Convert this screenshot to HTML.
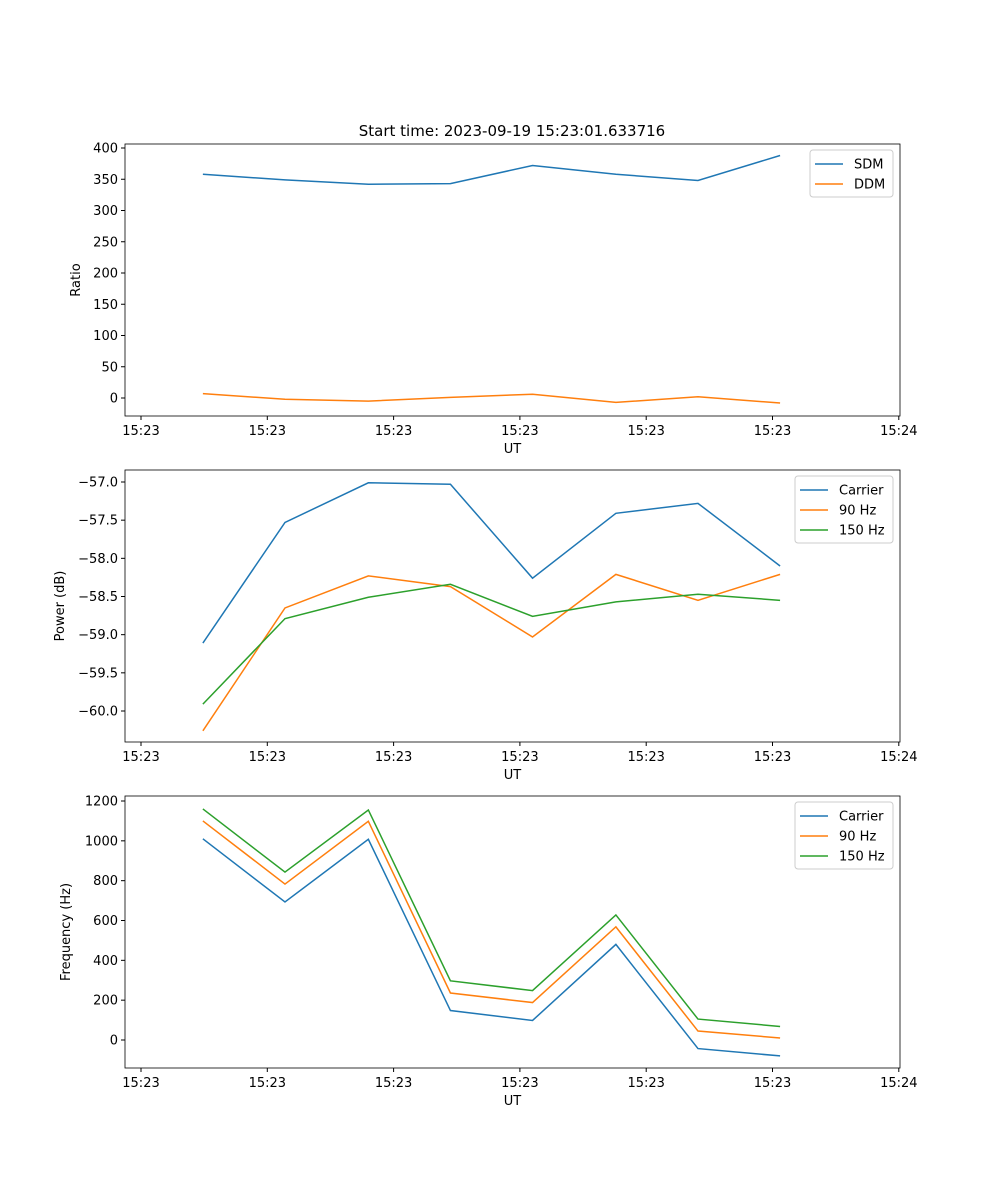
<!DOCTYPE html>
<html><head><meta charset="utf-8"><style>
body{margin:0;background:#fff}
svg{display:block;font-family:"DejaVu Sans","Liberation Sans",sans-serif}
</style></head><body>
<svg id="fig" width="1000" height="1200"></svg>
<script>
const sampleTimes=[1.49,2.14,2.80,3.45,4.10,4.76,5.41,6.06];
const xTickVals=[1,2,3,4,5,6,7];
const xTickLabels=["15:23","15:23","15:23","15:23","15:23","15:23","15:24"];
const sdm=[358,349,342,343,372,358,348,388];
const ddm=[7,-2,-5,1,6,-7,2,-8];
const pCarrier=[-59.11,-57.53,-57.01,-57.03,-58.26,-57.41,-57.28,-58.10];
const p90=[-60.26,-58.65,-58.23,-58.37,-59.03,-58.21,-58.55,-58.21];
const p150=[-59.91,-58.79,-58.51,-58.34,-58.76,-58.57,-58.47,-58.55];
const fCarrier=[1010,693,1008,148,98,480,-43,-80];
const f90=[1100,783,1098,236,188,568,45,10];
const f150=[1160,843,1155,297,248,628,105,68];
const ticks1=[0,50,100,150,200,250,300,350,400];
const ticks2=[-60.0,-59.5,-59.0,-58.5,-58.0,-57.5,-57.0];
const ticks3=[0,200,400,600,800,1000,1200];

const NS="http://www.w3.org/2000/svg";
const svg=document.getElementById('fig');
function mk(tag,attrs,parent,text){const e=document.createElementNS(NS,tag);for(const k in attrs)e.setAttribute(k,attrs[k]);if(text!==undefined)e.textContent=text;(parent||svg).appendChild(e);return e;}
const X0=125,X1=900;
const xs=t=>141+(t-1)*126.3;
function panel(name,top,bottom,yv0,yp0,yv1,yp1,ticks,fmt,ylabel,series,legend){
  const g=mk('g',{});
  
  
  const ys=v=>yp0+(v-yv0)*(yp1-yp0)/(yv1-yv0);
  ticks.forEach(v=>{const y=ys(v);
    const l=mk('line',{x1:X0-4,x2:X0,y1:y,y2:y,stroke:'#000'},g);
    
    const t=mk('text',{x:X0-7,y:y+4.5,'text-anchor':'end','font-size':'13'},g,fmt(v));
    });
  xTickVals.forEach((v,i)=>{const x=xs(v);
    const l=mk('line',{x1:x,x2:x,y1:bottom,y2:bottom+4,stroke:'#000'},g);
    
    const t=mk('text',{x:x,y:bottom+19,'text-anchor':'middle','font-size':'13'},g,xTickLabels[i]);
    });
  series.forEach(s=>{
    const p=mk('polyline',{points:s.v.map((v,i)=>xs(sampleTimes[i])+','+ys(v)).join(' '),fill:'none',stroke:s.c,'stroke-width':1.5},g);
    });
  const fr=mk('rect',{x:X0,y:top,width:X1-X0,height:bottom-top,fill:'none',stroke:'#000','stroke-width':0.8},g);
  
  const xl=mk('text',{x:(X0+X1)/2,y:bottom+37,'text-anchor':'middle','font-size':'13'},g,'UT');
  
  const yl=mk('text',{x:0,y:0,'text-anchor':'middle','font-size':'13',transform:`translate(${ylabel.x},${(top+bottom)/2}) rotate(-90)`},g,ylabel.t);
  
  const lg=mk('g',{},g);
  
  const lh=20+series.length*20;
  mk('rect',{x:legend.x,y:top+6,width:X1-7-legend.x,height:series.length*20+7,fill:'#fff',stroke:'#ccc',rx:3},lg);
  series.forEach((s,i)=>{const y=top+20+i*20;
    const e=mk('g',{},lg);
    
    mk('line',{x1:legend.x+5,x2:legend.x+33,y1:y,y2:y,stroke:s.c,'stroke-width':1.5},e);
    mk('text',{x:legend.x+44,y:y+4.5,'font-size':'13'},e,s.l);});
}
const B='#1f77b4',O='#ff7f0e',G='#2ca02c';
const title=mk('text',{x:512,y:136,'text-anchor':'middle','font-size':'15'},svg,'Start time: 2023-09-19 15:23:01.633716');

panel('ratio-panel',144,416,0,398,400,148,ticks1,v=>String(v),{x:80,t:'Ratio'},
  [{v:sdm,c:B,l:'SDM',n:'sdm-line'},{v:ddm,c:O,l:'DDM',n:'ddm-line'}],{x:810});
panel('power-panel',470,742,-57,482,-60,711,ticks2,v=>'\u2212'+Math.abs(v).toFixed(1),{x:64,t:'Power (dB)'},
  [{v:pCarrier,c:B,l:'Carrier',n:'power-carrier-line'},{v:p90,c:O,l:'90 Hz',n:'power-90hz-line'},{v:p150,c:G,l:'150 Hz',n:'power-150hz-line'}],{x:795});
panel('frequency-panel',796,1068,0,1040,1200,801,ticks3,v=>String(v),{x:70,t:'Frequency (Hz)'},
  [{v:fCarrier,c:B,l:'Carrier',n:'freq-carrier-line'},{v:f90,c:O,l:'90 Hz',n:'freq-90hz-line'},{v:f150,c:G,l:'150 Hz',n:'freq-150hz-line'}],{x:795});
</script>
</body></html>
